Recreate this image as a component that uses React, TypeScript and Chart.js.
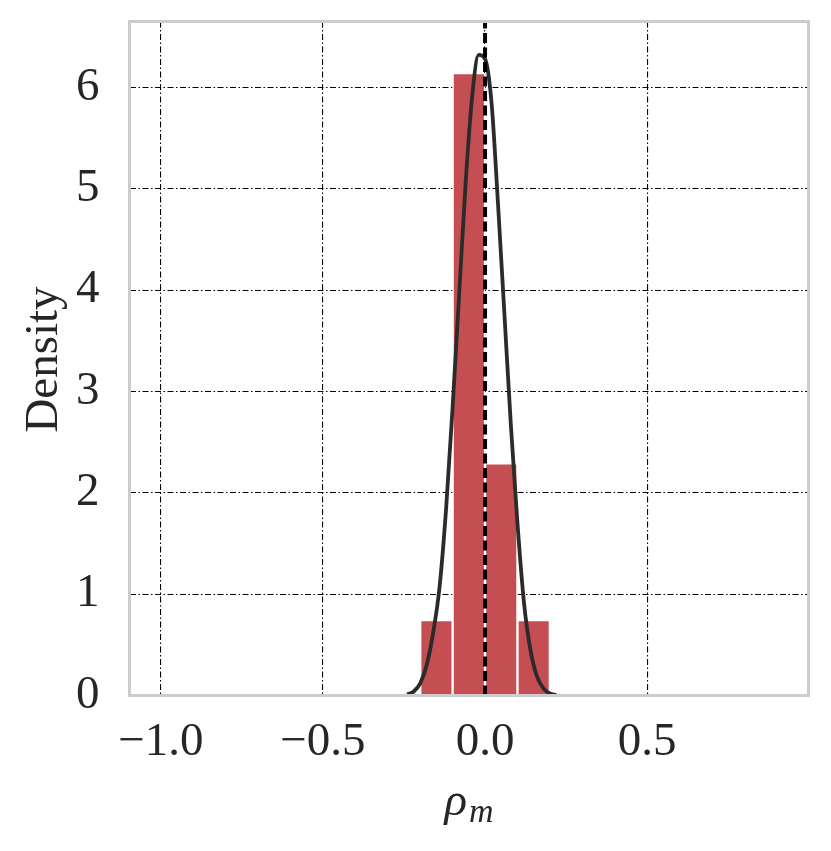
import React, { useEffect, useRef } from 'react';
import { Chart, registerables } from 'chart.js';

Chart.register(...registerables);

// Histogram (density) bins
const BIN_CENTERS = [-0.15, -0.05, 0.05, 0.15];
const BIN_DENSITY = [0.745, 6.14, 2.29, 0.745];

// KDE curve
const KDE_X = [-0.24, -0.22, -0.2, -0.18, -0.16, -0.14, -0.12, -0.1, -0.08, -0.06, -0.04, -0.02, 0.0, 0.02, 0.04, 0.06, 0.08, 0.1, 0.12, 0.14, 0.16, 0.18, 0.2, 0.22];
const KDE_Y = [0.01, 0.04, 0.12, 0.3, 0.62, 1.08, 1.85, 2.85, 3.95, 5.05, 5.9, 6.32, 6.28, 5.85, 4.85, 3.75, 2.65, 1.7, 0.92, 0.45, 0.19, 0.07, 0.02, 0.005];

// Reference (dashed) vertical line
const REF_LINE_X = 0.0;

const X_TICKS = [-1.0, -0.5, 0.0, 0.5];
const Y_TICKS = [0, 1, 2, 3, 4, 5, 6];
const X_MIN = -1.097;
const X_MAX = 0.998;
const Y_MIN = 0;
const Y_MAX = 6.65;

const X_TITLE_MAIN = 'ρ';
const X_TITLE_SUB = 'm';
const Y_TITLE = 'Density';

const TEXT_COLOR = '#262626';
const FONT_FAMILY = '"Liberation Serif", "Times New Roman", serif';
const GRID_DASH = [6, 2.5, 1.5, 2.5];

const fmtTick = (v: number) => (v < 0 ? '\u2212' + Math.abs(v).toFixed(1) : v.toFixed(1));

export default function App() {
  const ref = useRef<HTMLCanvasElement | null>(null);

  useEffect(() => {
    if (!ref.current) return;

    const framePlugin = {
      id: 'frameAndTitles',
      afterDraw(chart: any) {
        const { ctx, chartArea } = chart;
        const { left, right, top, bottom } = chartArea;
        ctx.save();
        ctx.strokeStyle = '#cccccc';
        ctx.lineWidth = 3;
        ctx.strokeRect(left, top, right - left, bottom - top);

        ctx.fillStyle = TEXT_COLOR;
        // y title
        ctx.save();
        ctx.translate(57, (top + bottom) / 2 + 1);
        ctx.rotate(-Math.PI / 2);
        ctx.font = `47px ${FONT_FAMILY}`;
        ctx.textAlign = 'center';
        ctx.textBaseline = 'alphabetic';
        ctx.fillText(Y_TITLE, 0, 0);
        ctx.restore();

        // x title: rho with subscript m
        const cx = (left + right) / 2;
        ctx.font = `italic 47px ${FONT_FAMILY}`;
        const w1 = ctx.measureText(X_TITLE_MAIN).width;
        ctx.font = `italic 34px ${FONT_FAMILY}`;
        const w2 = ctx.measureText(X_TITLE_SUB).width;
        const total = w1 + 2 + w2;
        const x0 = cx - total / 2;
        ctx.textAlign = 'left';
        ctx.textBaseline = 'alphabetic';
        ctx.font = `italic 47px ${FONT_FAMILY}`;
        ctx.fillText(X_TITLE_MAIN, x0, 815);
        ctx.font = `italic 34px ${FONT_FAMILY}`;
        ctx.fillText(X_TITLE_SUB, x0 + w1 + 2, 822);
        ctx.restore();
      },
    };

    const chart = new Chart(ref.current, {
      type: 'bar',
      data: {
        datasets: [
          {
            type: 'line',
            label: 'reference',
            data: [
              { x: REF_LINE_X, y: Y_MIN },
              { x: REF_LINE_X, y: Y_MAX },
            ],
            borderColor: '#000000',
            borderWidth: 4,
            borderDash: [10, 4.5],
            borderCapStyle: 'butt',
            pointRadius: 0,
            fill: false,
            order: 0,
          } as any,
          {
            type: 'line',
            label: 'kde',
            data: KDE_X.map((x, i) => ({ x, y: KDE_Y[i] })),
            borderColor: '#2b2b2b',
            borderWidth: 3.8,
            pointRadius: 0,
            fill: false,
            cubicInterpolationMode: 'monotone',
            order: 1,
          } as any,
          {
            type: 'bar',
            label: 'hist',
            data: BIN_CENTERS.map((x, i) => ({ x, y: BIN_DENSITY[i] })),
            backgroundColor: '#c44e52',
            borderColor: '#ffffff',
            borderWidth: 1.5,
            borderSkipped: 'bottom',
            barPercentage: 1,
            categoryPercentage: 1,
            grouped: false,
            order: 2,
          } as any,
        ],
      },
      options: {
        animation: false,
        responsive: true,
        maintainAspectRatio: false,
        layout: { padding: { left: 0, top: 21.5, right: 22.5, bottom: 0 } },
        plugins: {
          legend: { display: false },
          tooltip: { enabled: false },
        },
        scales: {
          x: {
            type: 'linear',
            min: X_MIN,
            max: X_MAX,
            offset: false,
            bounds: 'data',
            afterBuildTicks: (scale: any) => {
              scale.ticks = X_TICKS.map((v) => ({ value: v }));
            },
            afterFit: (scale: any) => {
              scale.height = 155.5;
              scale.paddingLeft = 0;
              scale.paddingRight = 0;
            },
            grid: {
              color: '#000000',
              lineWidth: 1.1,
              drawTicks: false,
              offset: false,
              borderDash: GRID_DASH,
            } as any,
            border: { display: false, dash: GRID_DASH },
            ticks: {
              color: TEXT_COLOR,
              font: { family: FONT_FAMILY, size: 47 },
              padding: 19,
              maxRotation: 0,
              autoSkip: false,
              callback: (v: any) => fmtTick(Number(v)),
            },
          },
          y: {
            type: 'linear',
            min: Y_MIN,
            max: Y_MAX,
            bounds: 'data',
            afterBuildTicks: (scale: any) => {
              scale.ticks = Y_TICKS.map((v) => ({ value: v }));
            },
            afterFit: (scale: any) => {
              scale.width = 129.5;
              scale.paddingTop = 0;
              scale.paddingBottom = 0;
            },
            grid: {
              color: '#000000',
              lineWidth: 1.1,
              drawTicks: false,
              borderDash: GRID_DASH,
            } as any,
            border: { display: false, dash: GRID_DASH },
            ticks: {
              color: TEXT_COLOR,
              font: { family: FONT_FAMILY, size: 47 },
              padding: 30,
              autoSkip: false,
              callback: (v: any) => String(Math.round(Number(v))),
            },
          },
        },
      },
      plugins: [framePlugin],
    });

    return () => chart.destroy();
  }, []);

  return (
    <div style={{ position: 'absolute', left: 0, top: 0, width: 831, height: 851, background: '#ffffff' }}>
      <canvas ref={ref} />
    </div>
  );
}
